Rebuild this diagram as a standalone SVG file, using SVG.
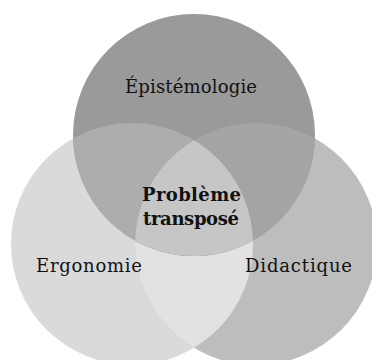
<svg xmlns="http://www.w3.org/2000/svg" width="372" height="360" viewBox="0 0 372 360">
<style>
.lbl{font-family:"DejaVu Serif","Liberation Serif",serif;font-size:18px;fill:#111;text-anchor:middle}
.b{font-weight:bold}
</style>
<defs>
<clipPath id="cL"><circle cx="132" cy="244" r="121"/></clipPath>
<clipPath id="cR"><circle cx="256" cy="244" r="121"/></clipPath>
</defs>
<g id="ergonomie">
<circle cx="132" cy="244" r="121" fill="#dadada"/>
</g>
<g id="didactique">
<circle cx="256" cy="244" r="121" fill="#bdbdbd"/>
<circle cx="256" cy="244" r="121" fill="#e2e2e2" clip-path="url(#cL)"/>
</g>
<g id="epistemologie">
<circle cx="194" cy="135" r="121" fill="#9a9a9a"/>
<circle cx="194" cy="135" r="121" fill="#adadad" clip-path="url(#cL)"/>
<circle cx="194" cy="135" r="121" fill="#a4a4a4" clip-path="url(#cR)"/>
<g clip-path="url(#cL)"><circle cx="194" cy="135" r="121" fill="#c6c6c6" clip-path="url(#cR)"/></g>
</g>
<g id="labels">
<text class="lbl" x="191" y="93" textLength="132">Épistémologie</text>
<text class="lbl" x="89" y="272" textLength="106">Ergonomie</text>
<text class="lbl" x="298.5" y="272" textLength="107">Didactique</text>
<text class="lbl b" x="191.5" y="201" textLength="99">Problème</text>
<text class="lbl b" x="191" y="225" textLength="96">transposé</text>
</g>
</svg>
